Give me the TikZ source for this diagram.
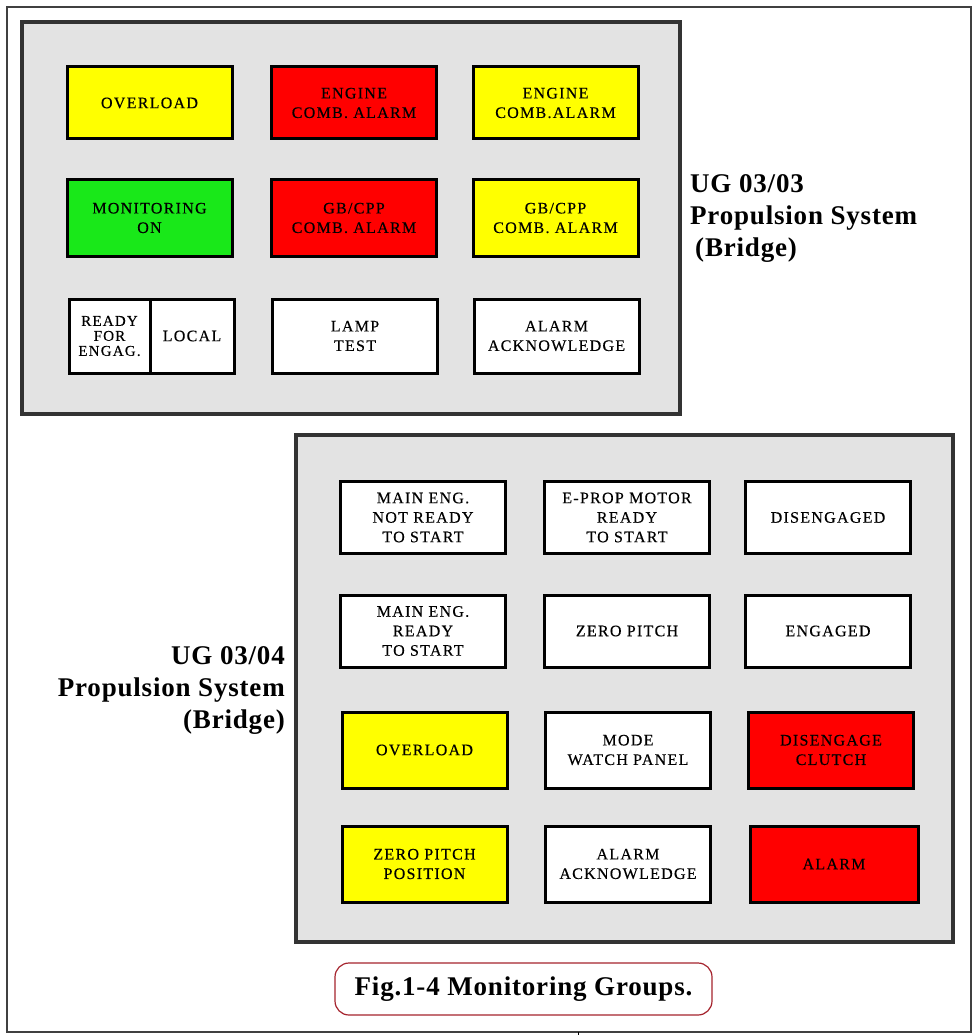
\documentclass[tikz,border=0pt]{standalone}
\usepackage{fontspec}
\setmainfont{Liberation Serif}
\newfontfamily\lampfont[LetterSpace=8,FakeBold=0.3]{Liberation Serif}
\newfontfamily\ugfont[LetterSpace=3]{Liberation Serif}
\definecolor{panelgray}{RGB}{227,227,227}
\definecolor{lampyellow}{RGB}{255,255,0}
\definecolor{lampred}{RGB}{255,0,0}
\definecolor{lampgreen}{RGB}{25,232,25}
\definecolor{capred}{RGB}{165,35,45}
\tikzset{
  panel/.style={draw=black!80,line width=4pt,fill=panelgray},
  lamp/.style={draw=black,line width=3pt,fill=white,minimum width=165pt,
    minimum height=72pt,inner sep=0pt,align=center,
    font=\lampfont\fontsize{16}{19.5}\selectfont},
  ug/.style={inner sep=0pt,font=\ugfont\bfseries\fontsize{27}{32}\selectfont},
}
\begin{document}
\begin{tikzpicture}[x=1pt,y=-1pt]
\useasboundingbox (0,0) rectangle (973,1035);
\draw[line width=2pt,draw=black!75] (7,7) rectangle (971,1032);
\draw[line width=1pt] (578,1032) -- (578,1035);
%
% UG 03/03
\draw[panel] (22,22) rectangle (680,414);
\node[lamp,fill=lampyellow] (ovl1) at (149.5,103) {OVERLOAD};
\node[lamp,fill=lampred] (engred) at (354,103) {ENGINE\\COMB. ALARM};
\node[lamp,fill=lampyellow] (engyel) at (555.5,103) {ENGINE\\COMB.ALARM};
\node[lamp,fill=lampgreen,minimum height=76pt] (mon) at (149.5,218) {MONITORING\\ON};
\node[lamp,fill=lampred,minimum height=76pt] (gbred) at (354,218) {GB/CPP\\COMB. ALARM};
\node[lamp,fill=lampyellow,minimum height=76pt] (gbyel) at (555.5,218) {GB/CPP\\COMB. ALARM};
\node[lamp,minimum width=81pt,minimum height=74pt,font=\lampfont\fontsize{15}{15}\selectfont]
  (ready) at (109.5,336) {READY\\FOR\\ENGAG.};
\node[lamp,minimum width=84pt,minimum height=74pt] (local) at (192,336) {LOCAL};
\node[lamp,minimum height=74pt] (lamp) at (355,336) {LAMP\\TEST};
\node[lamp,minimum height=74pt] (ack1) at (556.5,336) {ALARM\\ACKNOWLEDGE};
\node[ug,anchor=north west,align=left] (ug3) at (690,174)
  {UG 03/03\\Propulsion System\\\hspace*{5pt}(Bridge)};
%
% UG 03/04
\draw[panel] (296,435) rectangle (953,942);
\node[lamp] (mainnot) at (423,517.5) {MAIN ENG.\\NOT READY\\TO START};
\node[lamp] (eprop) at (627,517.5) {E-PROP MOTOR\\READY\\TO START};
\node[lamp] (diseng) at (828,517.5) {DISENGAGED};
\node[lamp] (mainrdy) at (423,631) {MAIN ENG.\\READY\\TO START};
\node[lamp] (zero) at (627,631) {ZERO PITCH};
\node[lamp] (eng) at (828,631) {ENGAGED};
\node[lamp,fill=lampyellow,minimum height=76pt] (ovl2) at (424.5,750) {OVERLOAD};
\node[lamp,minimum height=76pt] (mode) at (628,750) {MODE\\WATCH PANEL};
\node[lamp,fill=lampred,minimum height=76pt] (clutch) at (831,750) {DISENGAGE\\CLUTCH};
\node[lamp,fill=lampyellow,minimum height=76pt] (zeropos) at (424.5,864) {ZERO PITCH\\POSITION};
\node[lamp,minimum height=76pt] (ack2) at (628,864) {ALARM\\ACKNOWLEDGE};
\node[lamp,fill=lampred,minimum width=168pt,minimum height=76pt] (alarm) at (834,864) {ALARM};
\node[ug,anchor=north east,align=right] (ug4) at (285,646)
  {UG 03/04\\Propulsion System\\(Bridge)};
%
% caption
\node[draw=capred,line width=1.2pt,rounded corners=14pt,minimum width=377pt,
  minimum height=52pt,font=\ugfont\bfseries\fontsize{27}{30}\selectfont]
  (cap) at (523.5,989) {Fig.1-4 Monitoring Groups.};
\end{tikzpicture}
\end{document}
